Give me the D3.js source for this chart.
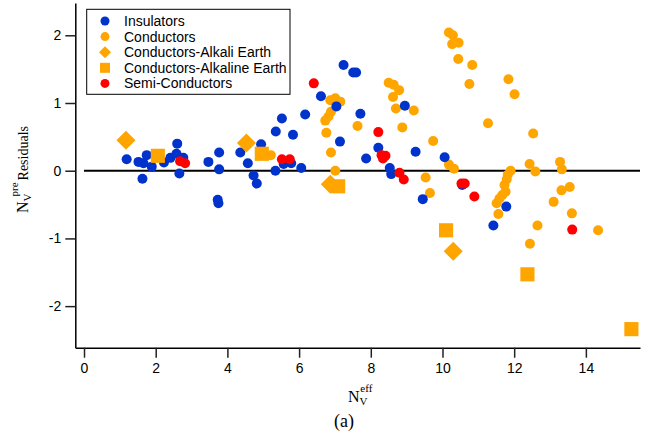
<!DOCTYPE html>
<html><head><meta charset="utf-8">
<script src="https://cdn.jsdelivr.net/npm/d3@7"></script>
<style>body{margin:0;background:#fff}</style>
</head><body>
<svg id="chart" width="649" height="445"></svg>
<script>
// ---- data ----
const seriesNames = ["Insulators", "Conductors", "Conductors-Alkali Earth", "Conductors-Alkaline Earth", "Semi-Conductors"];
const xTicks = [0, 2, 4, 6, 8, 10, 12, 14];
const yTicks = [-2, -1, 0, 1, 2];

const insulators = [
  [1.19,0.17],[1.52,0.13],[1.75,0.23],[1.66,0.11],[1.63,-0.12],[1.89,0.06],[2.23,0.12],[2.41,0.19],
  [2.60,0.40],[2.58,0.25],[2.77,0.19],[2.66,-0.04],[3.47,0.13],[3.77,0.27],[3.77,0.02],[3.73,-0.43],
  [3.75,-0.48],[4.36,0.27],[4.94,0.39],[4.57,0.11],[4.73,-0.07],[4.82,-0.19],[5.35,0.58],[5.52,0.77],
  [5.83,0.53],[6.17,0.83],[5.34,0.00],[5.57,0.10],[5.78,0.11],[6.06,0.04],[6.61,1.10],[7.04,0.95],
  [7.24,1.56],[7.51,1.45],[7.59,1.45],[7.14,0.43],[7.71,0.84],[7.87,0.18],[8.21,0.34],[8.95,0.96],
  [9.25,0.28],[8.53,0.04],[8.57,-0.05],[9.45,-0.42],[10.06,0.20],[10.55,-0.21],[11.78,-0.53],[11.42,-0.81]
];
const conductors = [
  [5.21,0.23],[6.87,1.04],[7.01,1.07],[7.15,1.02],[6.89,0.87],[6.82,0.80],[6.73,0.74],[6.76,0.56],
  [6.89,0.27],[7.01,0.00],[7.63,0.66],[8.50,1.30],[8.64,1.27],[8.79,1.19],[8.62,1.09],[8.70,0.92],
  [9.20,0.89],[8.88,0.64],[9.74,0.44],[9.53,-0.10],[9.65,-0.33],[10.18,0.09],[10.32,0.03],[10.18,2.04],
  [10.29,2.00],[10.45,1.89],[10.27,1.87],[10.44,1.65],[10.83,1.56],[10.75,1.28],[11.84,1.35],[12.01,1.13],
  [11.27,0.70],[12.53,0.55],[12.43,0.10],[12.59,-0.01],[13.28,0.13],[13.33,0.02],[13.55,-0.24],[13.32,-0.29],
  [13.10,-0.46],[13.61,-0.63],[14.34,-0.88],[12.65,-0.81],[12.44,-1.08],
  [11.90,0.00],[11.82,-0.06],[11.79,-0.13],[11.73,-0.21],[11.76,-0.31],[11.67,-0.36],[11.59,-0.41],
  [11.51,-0.48],[11.56,-0.64]
];
const alkaliEarth = [[1.17,0.45],[4.53,0.41],[6.87,-0.20],[10.30,-1.19]];
const alkalineEarth = [[2.06,0.22],[4.96,0.25],[7.09,-0.23],[10.10,-0.88],[12.37,-1.53],[15.27,-2.34]];
const semiConductors = [
  [2.68,0.14],[2.82,0.11],[5.52,0.17],[5.74,0.17],[6.41,1.29],[8.21,0.57],[8.30,0.23],[8.41,0.22],
  [8.34,0.18],[8.80,-0.03],[8.92,-0.13],[10.53,-0.19],[10.62,-0.19],[10.89,-0.38],[13.62,-0.87]
];

// ---- styles ----
const BLUE = "#0033cc", ORANGE = "#ffa500", RED = "#ff0000";
const sans = "'Liberation Sans', Arial, sans-serif";
const serif = "'Liberation Serif', 'Times New Roman', serif";

const svg = d3.select("#chart");
const x = d3.scaleLinear().domain([-0.243, 15.51]).range([75.3, 640]);
const y = d3.scaleLinear().domain([-2.614, 2.477]).range([347.7, 3]);

// zero line
svg.append("line")
  .attr("x1", x(0)).attr("x2", 640)
  .attr("y1", y(0)).attr("y2", y(0))
  .attr("stroke", "#000").attr("stroke-width", 2);

// axes
const yAxis = svg.append("g").attr("transform", `translate(${x.range()[0]},0)`)
  .call(d3.axisLeft(y).tickValues(yTicks).tickFormat(d3.format("d")).tickSize(10).tickSizeOuter(0).tickPadding(4));
const xAxis = svg.append("g").attr("transform", `translate(0,${y.range()[0]})`)
  .call(d3.axisBottom(x).tickValues(xTicks).tickFormat(d3.format("d")).tickSize(10).tickSizeOuter(0).tickPadding(5));
[yAxis, xAxis].forEach(g => {
  g.selectAll("text").attr("font-family", sans).attr("font-size", 14).attr("fill", "#000");
  g.select(".domain").attr("stroke", "#000").attr("stroke-width", 1.5);
  g.selectAll(".tick line").attr("stroke", "#222").attr("stroke-width", 1.5);
});
yAxis.selectAll("text").text(d => d < 0 ? "-" + Math.abs(d) : d);

// marks
const R = 5;
svg.append("g").selectAll("circle").data(conductors).join("circle")
  .attr("cx", d => x(d[0])).attr("cy", d => y(d[1])).attr("r", R).attr("fill", ORANGE);
svg.append("g").selectAll("circle").data(insulators).join("circle")
  .attr("cx", d => x(d[0])).attr("cy", d => y(d[1])).attr("r", R).attr("fill", BLUE);
const diamond = d3.symbol(d3.symbolSquare, 182);
svg.append("g").selectAll("path").data(alkaliEarth).join("path")
  .attr("d", diamond)
  .attr("transform", d => `translate(${x(d[0])},${y(d[1])}) rotate(45)`)
  .attr("fill", ORANGE);
const square = d3.symbol(d3.symbolSquare, 200);
svg.append("g").selectAll("path").data(alkalineEarth).join("path")
  .attr("d", square)
  .attr("transform", d => `translate(${x(d[0])},${y(d[1])})`)
  .attr("fill", ORANGE);
svg.append("g").selectAll("circle").data(semiConductors).join("circle")
  .attr("cx", d => x(d[0])).attr("cy", d => y(d[1])).attr("r", R).attr("fill", RED);

// legend
const lg = svg.append("g");
lg.append("rect").attr("x", 86.7).attr("y", 9.3).attr("width", 203.3).attr("height", 85)
  .attr("fill", "#fff").attr("stroke", "#000").attr("stroke-width", 1);
const legendMarks = [
  {type: "circle", color: BLUE}, {type: "circle", color: ORANGE},
  {type: "diamond", color: ORANGE}, {type: "square", color: ORANGE}, {type: "circle", color: RED}
];
seriesNames.forEach((name, i) => {
  const by = 26 + i * 15.6;
  const cy = by - 5;
  const m = legendMarks[i];
  if (m.type === "circle") {
    lg.append("circle").attr("cx", 105).attr("cy", cy).attr("r", 4.5).attr("fill", m.color);
  } else if (m.type === "diamond") {
    lg.append("path").attr("d", d3.symbol(d3.symbolSquare, 72)).attr("transform", `translate(105,${cy}) rotate(45)`).attr("fill", m.color);
  } else {
    lg.append("path").attr("d", d3.symbol(d3.symbolSquare, 100)).attr("transform", `translate(105,${cy})`).attr("fill", m.color);
  }
  lg.append("text").attr("x", 124).attr("y", by).attr("font-family", sans).attr("font-size", 14)
    .attr("fill", "#000").text(name);
});

// axis titles
const xt = svg.append("text").attr("x", 348).attr("y", 401.5).attr("font-family", serif).attr("font-size", 16).attr("fill", "#000");
xt.append("tspan").text("N");
xt.append("tspan").attr("font-size", 11).attr("dy", 3).text("V");
xt.append("tspan").attr("font-size", 11).attr("dx", -6).attr("dy", -13).text("eff");

const yt = svg.append("text").attr("transform", "translate(28,213) rotate(-90)")
  .attr("font-family", serif).attr("font-size", 16).attr("fill", "#000");
yt.append("tspan").text("N");
yt.append("tspan").attr("font-size", 11).attr("dy", 3).text("V");
yt.append("tspan").attr("font-size", 11).attr("dx", -3).attr("dy", -13).text("pre");
yt.append("tspan").attr("font-size", 14).attr("dy", 10).attr("dx", 2).text("Residuals");

svg.append("text").attr("x", 344).attr("y", 427).attr("text-anchor", "middle")
  .attr("font-family", serif).attr("font-size", 18).attr("fill", "#000").text("(a)");
</script>
</body></html>
